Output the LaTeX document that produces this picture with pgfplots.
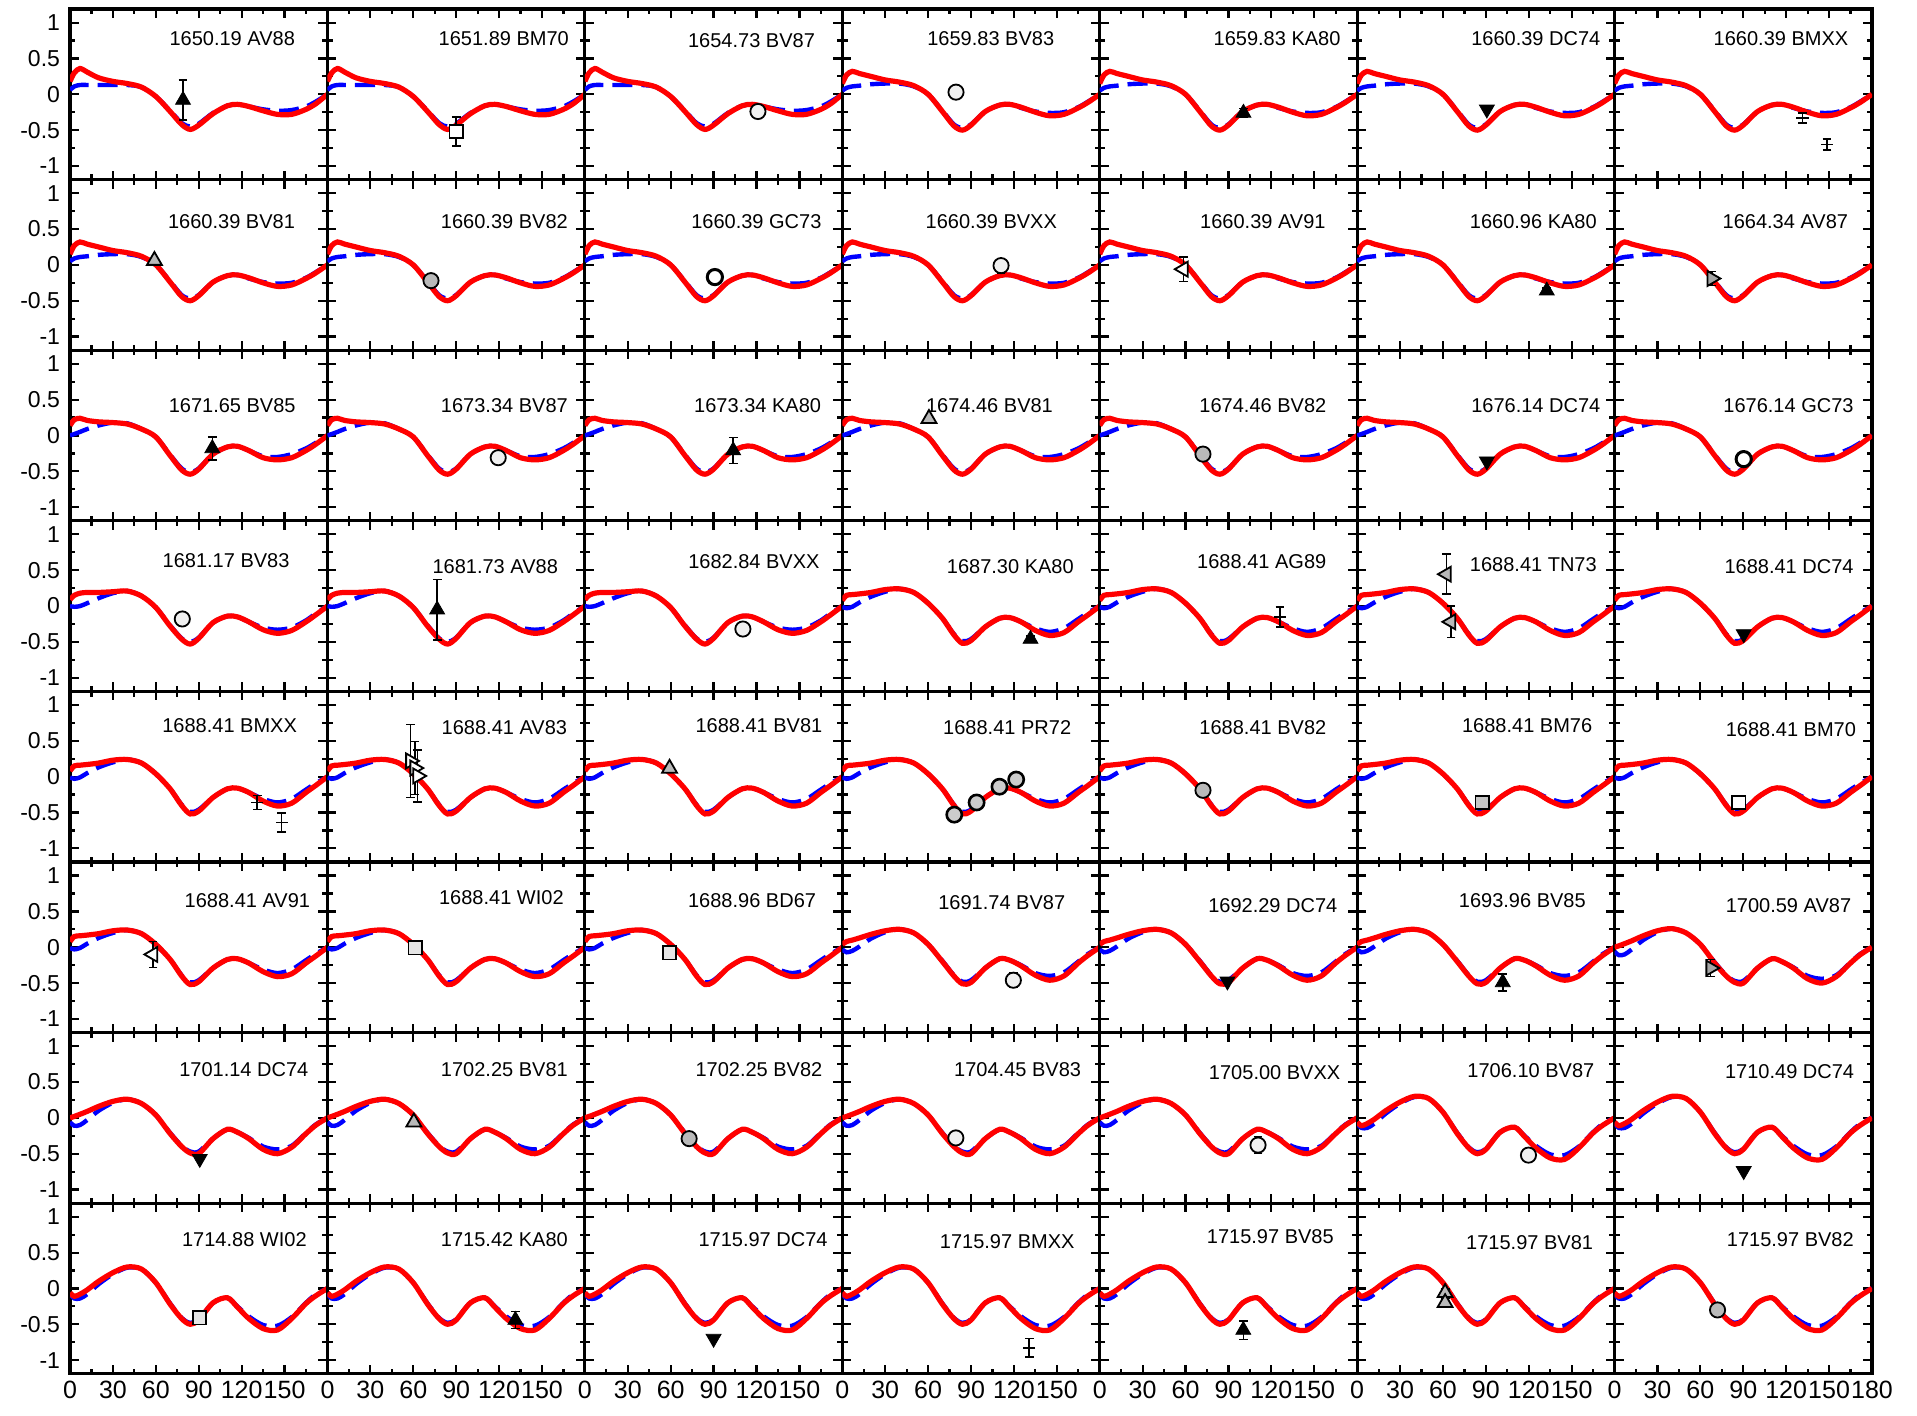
\documentclass[border=0pt]{standalone}
\usepackage{fontspec}
\setmainfont{Liberation Sans}
\usepackage{pgfplots}
\usepackage{pgfplotstable}
\pgfplotsset{compat=1.18}
\usepgfplotslibrary{groupplots}

% Model curves (red: full model, blue: reduced model) for successive epochs
\pgfplotstableread{
x   rA    bA    rB    bB    rC    bC    rD    bD    rE    bE    rF    bF    rG    bG    rH    bH
0   0.18  0.06  0.15  0.05  0.14  0.00  0.09  0.00  0.08 -0.01  0.04 -0.03  0.00 -0.06 -0.06 -0.08
3   0.30  0.11  0.27  0.09  0.22  0.02  0.15 -0.01  0.15 -0.03  0.08 -0.07  0.02 -0.11 -0.11 -0.14
7   0.36  0.13  0.32  0.11  0.24  0.05  0.18  0.00  0.16 -0.01  0.10 -0.05  0.05 -0.10 -0.08 -0.14
12  0.31  0.13  0.29  0.12  0.21  0.09  0.19  0.04  0.17  0.05  0.13  0.01  0.09 -0.03 -0.02 -0.08
20  0.23  0.13  0.25  0.14  0.19  0.14  0.19  0.11  0.19  0.13  0.18  0.12  0.16  0.10  0.10  0.06
30  0.18  0.13  0.20  0.15  0.18  0.18  0.20  0.18  0.23  0.20  0.23  0.21  0.23  0.21  0.22  0.20
40  0.15  0.13  0.17  0.15  0.16  0.17  0.21  0.21  0.24  0.24  0.25  0.25  0.26  0.26  0.30  0.29
50  0.10  0.10  0.12  0.11  0.09  0.09  0.14  0.14  0.19  0.19  0.20  0.20  0.20  0.20  0.27  0.27
60 -0.03 -0.03  0.00  0.00 -0.02 -0.02 -0.02 -0.02  0.04  0.04  0.04  0.04  0.04  0.04  0.08  0.08
70 -0.24 -0.23 -0.24 -0.23 -0.28 -0.27 -0.28 -0.27 -0.17 -0.17 -0.20 -0.19 -0.22 -0.21 -0.22 -0.21
78 -0.42 -0.40 -0.44 -0.42 -0.48 -0.46 -0.46 -0.45 -0.40 -0.39 -0.40 -0.39 -0.40 -0.39 -0.42 -0.41
84 -0.49 -0.45 -0.50 -0.47 -0.54 -0.51 -0.53 -0.50 -0.52 -0.49 -0.51 -0.48 -0.49 -0.47 -0.50 -0.48
90 -0.43 -0.41 -0.43 -0.42 -0.47 -0.46 -0.45 -0.44 -0.48 -0.46 -0.49 -0.46 -0.50 -0.47 -0.44 -0.43
100 -0.27 -0.26 -0.24 -0.24 -0.26 -0.26 -0.23 -0.23 -0.29 -0.29 -0.29 -0.29 -0.29 -0.29 -0.20 -0.20
110 -0.16 -0.16 -0.15 -0.15 -0.16 -0.16 -0.14 -0.14 -0.17 -0.17 -0.16 -0.16 -0.16 -0.16 -0.13 -0.13
117 -0.14 -0.14 -0.14 -0.14 -0.15 -0.15 -0.15 -0.15 -0.16 -0.16 -0.18 -0.18 -0.20 -0.20 -0.26 -0.25
125 -0.17 -0.17 -0.18 -0.19 -0.21 -0.21 -0.22 -0.22 -0.22 -0.22 -0.26 -0.25 -0.29 -0.28 -0.42 -0.39
135 -0.23 -0.21 -0.25 -0.24 -0.31 -0.29 -0.33 -0.30 -0.34 -0.31 -0.39 -0.36 -0.44 -0.40 -0.56 -0.51
145 -0.28 -0.23 -0.30 -0.26 -0.34 -0.30 -0.38 -0.33 -0.41 -0.36 -0.46 -0.40 -0.50 -0.44 -0.58 -0.52
155 -0.28 -0.22 -0.28 -0.25 -0.31 -0.26 -0.34 -0.30 -0.37 -0.31 -0.40 -0.35 -0.41 -0.39 -0.42 -0.40
165 -0.21 -0.17 -0.19 -0.18 -0.21 -0.18 -0.22 -0.20 -0.22 -0.18 -0.22 -0.20 -0.22 -0.21 -0.21 -0.20
172 -0.13 -0.10 -0.11 -0.10 -0.12 -0.10 -0.12 -0.10 -0.12 -0.09 -0.11 -0.09 -0.10 -0.09 -0.10 -0.08
180  0.00  0.00  0.00  0.00  0.00  0.00  0.00  0.00  0.00  0.00  0.00  0.00  0.00  0.00  0.00  0.00
}\cur

\newcommand{\lbl}{\fontsize{10}{12}\selectfont}
% #1 epoch column, #2/#3 label position, #4 label text
\newcommand{\panel}[4]{%
  \addplot[blue, line width=2.2pt, dash pattern=on 10pt off 4.5pt, smooth] table[x=x, y=b#1] {\cur};
  \addplot[red, line width=2.6pt, smooth] table[x=x, y=r#1] {\cur};
  \node[font=\lbl, inner sep=0pt] at (axis cs:#2,#3) {#4};
}

\pgfplotsset{
  eb/.style={error bars/y dir=both, error bars/y explicit,
    error bars/error bar style={line width=0.8pt, black},
    error bars/error mark options={rotate=90, mark size=2.2pt, line width=0.8pt, black}},
  mk/.style={only marks, eb, mark size=4.3pt},
  tb/.style={mk, mark=triangle*, mark options={fill=black, draw=black}},
  td/.style={mk, mark=triangle*, mark options={rotate=180, fill=black, draw=black}},
  tg/.style={mk, mark=triangle*, mark options={fill=gray!55, draw=black, line width=0.9pt}},
  tl/.style={mk, mark=triangle*, mark options={rotate=90, fill=white, draw=black, line width=0.9pt}},
  tlg/.style={mk, mark=triangle*, mark options={rotate=90, fill=gray!55, draw=black, line width=0.9pt}},
  tr/.style={mk, mark=triangle*, mark options={rotate=-90, fill=white, draw=black, line width=0.9pt}},
  trd/.style={mk, mark=triangle*, mark options={rotate=-90, fill=gray!70, draw=black, line width=0.9pt}},
  sq/.style={mk, mark=square*, mark size=3.3pt, mark options={fill=white, draw=black, line width=0.9pt}},
  sqg/.style={mk, mark=square*, mark size=3.3pt, mark options={fill=gray!45, draw=black, line width=0.9pt}},
  sqp/.style={mk, mark=square*, mark size=3.3pt, mark options={fill=gray!20, draw=black, line width=0.9pt}},
  cw/.style={mk, mark=*, mark size=3.8pt, mark options={fill=white, draw=black, line width=1.5pt}},
  cd/.style={mk, mark=*, mark size=3.8pt, mark options={fill=gray!12, draw=black, line width=0.9pt}},
  cg/.style={mk, mark=*, mark size=3.8pt, mark options={fill=gray!55, draw=black, line width=0.9pt}},
  cx/.style={mk, mark=*, mark size=3.8pt, mark options={fill=gray!40, draw=black, line width=1.3pt}},
  br/.style={mk, mark=-, mark size=3pt, mark options={line width=0.8pt, black}},
}

\begin{document}
\begin{tikzpicture}
\begin{groupplot}[
  group style={group name=G, group size=7 by 8, horizontal sep=0pt, vertical sep=0pt,
    xticklabels at=edge bottom, yticklabels at=edge left},
  scale only axis, width=128.64pt, height=85.25pt,
  xmin=0, xmax=180, ymin=-1.19, ymax=1.19,
  xtick={0,30,...,180}, xticklabels={0,30,60,90,120,150,},
  ytick={-1,-0.5,0,0.5,1}, yticklabels={-1,-0.5,0,0.5,1},
  minor x tick num=1, minor y tick num=1,
  tick align=inside,
  major tick length=4.5pt, minor tick length=2.6pt,
  every tick/.append style={black, line width=1.1pt},
  every minor tick/.append style={black, line width=1.1pt},
  axis line style={line width=1.6pt},
  xticklabel style={font=\fontsize{12.5}{14}\selectfont},
  yticklabel style={font=\fontsize{11.5}{13}\selectfont, xshift=-1.5pt},
]
% ---- row 1
\nextgroupplot
\panel{A}{113.4}{0.782}{1650.19 AV88}
\addplot[tb] coordinates {(79,-0.08) +- (0,0.28)};
\nextgroupplot
\panel{A}{123.3}{0.782}{1651.89 BM70}
\addplot[sq] coordinates {(90,-0.52) +- (0,0.2)};
\nextgroupplot
\panel{A}{116.5}{0.748}{1654.73 BV87}
\addplot[cd] coordinates {(121,-0.24) +- (0,0.05)};
\nextgroupplot
\panel{B}{103.8}{0.782}{1659.83 BV83}
\addplot[cd] coordinates {(79.5,0.03) +- (0,0.03)};
\nextgroupplot
\panel{B}{124.0}{0.782}{1659.83 KA80}
\addplot[tb] coordinates {(100.5,-0.26) +- (0,0.06)};
\nextgroupplot
\panel{B}{124.9}{0.782}{1660.39 DC74}
\addplot[td] coordinates {(90.7,-0.21)};
\nextgroupplot
\panel{B}{116.4}{0.782}{1660.39 BMXX}
\addplot[br] coordinates {(131.4,-0.33) +- (0,0.07) (148.5,-0.70) +- (0,0.08)};
% ---- row 2
\nextgroupplot
\panel{B}{112.9}{0.603}{1660.39 BV81}
\addplot[tg] coordinates {(59,0.06) +- (0,0.03)};
\nextgroupplot
\panel{B}{123.7}{0.603}{1660.39 BV82}
\addplot[cg] coordinates {(72.4,-0.22)};
\nextgroupplot
\panel{B}{119.9}{0.603}{1660.39 GC73}
\addplot[cw] coordinates {(90.9,-0.17) +- (0,0.05)};
\nextgroupplot
\panel{B}{104.2}{0.603}{1660.39 BVXX}
\addplot[cd] coordinates {(111,-0.01) +- (0,0.1)};
\nextgroupplot
\panel{B}{114.1}{0.603}{1660.39 AV91}
\addplot[tl] coordinates {(58.5,-0.06) +- (0,0.17)};
\nextgroupplot
\panel{B}{123.2}{0.603}{1660.96 KA80}
\addplot[tb] coordinates {(132.6,-0.36) +- (0,0.04)};
\nextgroupplot
\panel{B}{119.4}{0.603}{1664.34 AV87}
\addplot[trd] coordinates {(68,-0.19) +- (0,0.1)};
% ---- row 3
\nextgroupplot
\panel{C}{113.4}{0.423}{1671.65 BV85}
\addplot[tb] coordinates {(99.5,-0.18) +- (0,0.16)};
\nextgroupplot
\panel{C}{123.7}{0.423}{1673.34 BV87}
\addplot[cd] coordinates {(119.4,-0.31) +- (0,0.04)};
\nextgroupplot
\panel{C}{120.8}{0.423}{1673.34 KA80}
\addplot[tb] coordinates {(103.7,-0.21) +- (0,0.18)};
\nextgroupplot
\panel{C}{102.9}{0.423}{1674.46 BV81}
\addplot[tg] coordinates {(60.6,0.235)};
\nextgroupplot
\panel{C}{114.1}{0.423}{1674.46 BV82}
\addplot[cg] coordinates {(72.2,-0.26)};
\nextgroupplot
\panel{C}{124.9}{0.423}{1676.14 DC74}
\addplot[td] coordinates {(90.7,-0.36)};
\nextgroupplot
\panel{C}{121.6}{0.423}{1676.14 GC73}
\addplot[cw] coordinates {(90.3,-0.33) +- (0,0.07)};
% ---- row 4
\nextgroupplot
\panel{D}{109.1}{0.637}{1681.17 BV83}
\addplot[cd] coordinates {(78.5,-0.18) +- (0,0.08)};
\nextgroupplot
\panel{D}{117.3}{0.551}{1681.73 AV88}
\addplot[tb] coordinates {(76.7,-0.05) +- (0,0.42)};
\nextgroupplot
\panel{D}{118.2}{0.620}{1682.84 BVXX}
\addplot[cd] coordinates {(110.5,-0.32) +- (0,0.05)};
\nextgroupplot
\panel{E}{117.5}{0.551}{1687.30 KA80}
\addplot[tb] coordinates {(131.6,-0.46) +- (0,0.04)};
\nextgroupplot
\panel{E}{113.3}{0.620}{1688.41 AG89}
\addplot[br] coordinates {(126.1,-0.15) +- (0,0.14)};
\nextgroupplot
\panel{E}{123.2}{0.585}{1688.41 TN73}
\addplot[tlg] coordinates {(62.5,0.445) +- (0,0.28) (65.6,-0.22) +- (0,0.22)};
\nextgroupplot
\panel{E}{122.0}{0.551}{1688.41 DC74}
\addplot[td] coordinates {(90.3,-0.39)};
% ---- row 5
\nextgroupplot
\panel{E}{111.6}{0.714}{1688.41 BMXX}
\addplot[br] coordinates {(130.9,-0.36) +- (0,0.1) (148,-0.64) +- (0,0.13)};
\nextgroupplot
\panel{E}{123.7}{0.679}{1688.41 AV83}
\addplot[tr] coordinates {(58,0.22) +- (0,0.51) (61,0.12) +- (0,0.37) (63,0.01) +- (0,0.36)};
\nextgroupplot
\panel{E}{121.7}{0.714}{1688.41 BV81}
\addplot[tg] coordinates {(59.2,0.115)};
\nextgroupplot
\panel{E}{115.3}{0.679}{1688.41 PR72}
\addplot[cx] coordinates {(78.3,-0.53) (93.9,-0.36) (109.9,-0.14) (121.6,-0.04)};
\nextgroupplot
\panel{E}{114.1}{0.679}{1688.41 BV82}
\addplot[cg] coordinates {(72.2,-0.19)};
\nextgroupplot
\panel{E}{118.9}{0.714}{1688.41 BM76}
\addplot[sqg] coordinates {(87.3,-0.36) +- (0,0.05)};
\nextgroupplot
\panel{E}{123.3}{0.662}{1688.41 BM70}
\addplot[sq] coordinates {(86.9,-0.36) +- (0,0.04)};
% ---- row 6
\nextgroupplot
\panel{E}{124.0}{0.654}{1688.41 AV91}
\addplot[tl] coordinates {(58,-0.1) +- (0,0.18)};
\nextgroupplot
\panel{E}{121.6}{0.688}{1688.41 WI02}
\addplot[sqp] coordinates {(61.3,-0.01)};
\nextgroupplot
\panel{E}{116.9}{0.654}{1688.96 BD67}
\addplot[sqp] coordinates {(59.2,-0.08)};
\nextgroupplot
\panel{F}{111.5}{0.620}{1691.74 BV87}
\addplot[cd] coordinates {(119.6,-0.46) +- (0,0.1)};
\nextgroupplot
\panel{F}{121.0}{0.585}{1692.29 DC74}
\addplot[td] coordinates {(89.3,-0.475)};
\nextgroupplot
\panel{F}{115.5}{0.654}{1693.96 BV85}
\addplot[tb] coordinates {(101.8,-0.49) +- (0,0.12)};
\nextgroupplot
\panel{G}{121.6}{0.585}{1700.59 AV87}
\addplot[trd] coordinates {(67.2,-0.29) +- (0,0.12)};
% ---- row 7
\nextgroupplot
\panel{G}{121.5}{0.679}{1701.14 DC74}
\addplot[td] coordinates {(90.7,-0.57)};
\nextgroupplot
\panel{G}{123.7}{0.679}{1702.25 BV81}
\addplot[tg] coordinates {(60.4,-0.06)};
\nextgroupplot
\panel{G}{121.7}{0.679}{1702.25 BV82}
\addplot[cg] coordinates {(72.9,-0.29)};
\nextgroupplot
\panel{G}{122.6}{0.679}{1704.45 BV83}
\addplot[cd] coordinates {(79.4,-0.28)};
\nextgroupplot
\panel{G}{122.3}{0.628}{1705.00 BVXX}
\addplot[cd] coordinates {(110.7,-0.38) +- (0,0.12)};
\nextgroupplot
\panel{H}{121.5}{0.662}{1706.10 BV87}
\addplot[cd] coordinates {(119.8,-0.52) +- (0,0.08)};
\nextgroupplot
\panel{H}{122.4}{0.645}{1710.49 DC74}
\addplot[td] coordinates {(90.3,-0.74)};
% ---- row 8
\nextgroupplot
\panel{H}{121.9}{0.688}{1714.88 WI02}
\addplot[sqp] coordinates {(90.7,-0.41)};
\nextgroupplot
\panel{H}{123.7}{0.688}{1715.42 KA80}
\addplot[tb] coordinates {(131.4,-0.44) +- (0,0.12)};
\nextgroupplot
\panel{H}{124.6}{0.688}{1715.97 DC74}
\addplot[td] coordinates {(90,-0.70)};
\nextgroupplot
\panel{H}{115.3}{0.654}{1715.97 BMXX}
\addplot[br] coordinates {(130.7,-0.83) +- (0,0.13)};
\nextgroupplot
\panel{H}{119.3}{0.722}{1715.97 BV85}
\addplot[tb] coordinates {(100.4,-0.58) +- (0,0.13)};
\nextgroupplot
\panel{H}{120.6}{0.637}{1715.97 BV81}
\addplot[tg] coordinates {(61.5,-0.06) +- (0,0.05) (61.5,-0.20) +- (0,0.06)};
\nextgroupplot[xticklabels={0,30,60,90,120,150,180}]
\panel{H}{122.9}{0.688}{1715.97 BV82}
\addplot[cg] coordinates {(72,-0.30)};
\end{groupplot}
\pgfresetboundingbox
\path[use as bounding box] ([xshift=-35pt,yshift=-21pt]G c1r8.south west)
  rectangle ([xshift=22.5pt,yshift=4.5pt]G c7r1.north east);
\end{tikzpicture}
\end{document}
